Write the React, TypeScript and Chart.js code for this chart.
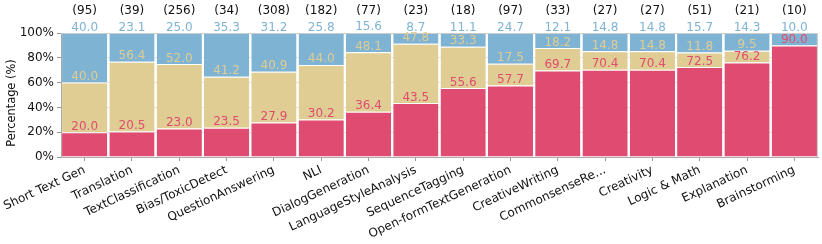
import React, { useEffect, useRef } from "react";
import { Chart, registerables } from "chart.js";

Chart.register(...registerables);

const categories = [
  "Short Text Gen", "Translation", "TextClassification", "Bias/ToxicDetect",
  "QuestionAnswering", "NLI", "DialogGeneration", "LanguageStyleAnalysis",
  "SequenceTagging", "Open-formTextGeneration", "CreativeWriting", "CommonsenseRe...",
  "Creativity", "Logic & Math", "Explanation", "Brainstorming",
];
const counts = [95, 39, 256, 34, 308, 182, 77, 23, 18, 97, 33, 27, 27, 51, 21, 10];
const redValues = [20.0, 20.5, 23.0, 23.5, 27.9, 30.2, 36.4, 43.5, 55.6, 57.7, 69.7, 70.4, 70.4, 72.5, 76.2, 90.0];
const yellowValues = [40.0, 56.4, 52.0, 41.2, 40.9, 44.0, 48.1, 47.8, 33.3, 17.5, 18.2, 14.8, 14.8, 11.8, 9.5, 0];
const blueValues = [40.0, 23.1, 25.0, 35.3, 31.2, 25.8, 15.6, 8.7, 11.1, 24.7, 12.1, 14.8, 14.8, 15.7, 14.3, 10.0];
const yTicks = [0, 20, 40, 60, 80, 100];
const yTitle = "Percentage (%)";

const RED = "#e04c71";
const YELLOW = "#dfcd93";
const BLUE = "#7fb3d3";
const FONT = "'DejaVu Sans', sans-serif";

const labelPlugin = {
  id: "valueLabels",
  afterDatasetsDraw(chart: any) {
    const { ctx, chartArea } = chart;
    const xs = chart.scales.x;
    const ys = chart.scales.y;
    ctx.save();
    // frame (top & right)
    ctx.strokeStyle = "#cccccc";
    ctx.lineWidth = 1;
    ctx.beginPath();
    ctx.moveTo(chartArea.left, chartArea.top + 0.5);
    ctx.lineTo(chartArea.right - 0.5, chartArea.top + 0.5);
    ctx.lineTo(chartArea.right - 0.5, chartArea.bottom);
    ctx.stroke();

    ctx.font = `12px ${FONT}`;
    ctx.textAlign = "center";
    ctx.textBaseline = "alphabetic";
    categories.forEach((_, i) => {
      const x = xs.getPixelForValue(i);
      let cum = 0;
      chart.data.datasets.forEach((ds: any) => {
        const v = ds.data[i];
        cum += v;
        if (v > 0) {
          ctx.fillStyle = ds.backgroundColor;
          ctx.fillText(v.toFixed(1), x, ys.getPixelForValue(cum) - 2.5);
        }
      });
      ctx.fillStyle = "#111";
      ctx.fillText(`(${counts[i]})`, x, 14);
    });

    // y-axis title
    ctx.translate(12, 103);
    ctx.rotate(-Math.PI / 2);
    ctx.font = `11.4px ${FONT}`;
    ctx.textBaseline = "middle";
    ctx.fillStyle = "#111";
    ctx.fillText(yTitle, 0, 0);
    ctx.restore();
  },
};

export default function App() {
  const ref = useRef<HTMLCanvasElement | null>(null);
  useEffect(() => {
    document.body.style.margin = "0";
    const mk = (data: number[], color: string) => ({
      data,
      backgroundColor: color,
      borderColor: "rgba(255,255,255,0.8)",
      borderWidth: { top: 1, bottom: 0, left: 0, right: 0 },
      borderSkipped: false,
      inflateAmount: 0,
    });
    const chart = new Chart(ref.current!, {
      type: "bar",
      data: {
        labels: categories,
        datasets: [mk(redValues, RED), mk(yellowValues, YELLOW), mk(blueValues, BLUE)] as any,
      },
      options: {
        animation: false,
        responsive: true,
        maintainAspectRatio: false,
        layout: { padding: { top: 33, right: 4, left: 0, bottom: 0 } },
        plugins: { legend: { display: false }, tooltip: { enabled: false } },
        datasets: { bar: { categoryPercentage: 1, barPercentage: 0.956 } },
        scales: {
          x: {
            stacked: true,
            afterFit: (s: any) => { s.height = 87; },
            grid: { display: true, drawOnChartArea: false, offset: false, tickLength: 4, color: "#999" },
            border: { color: "#aaa", width: 1 },
            ticks: {
              autoSkip: false, minRotation: 25, maxRotation: 25, padding: 2,
              color: "#111", font: { family: FONT, size: 12 },
            },
          },
          y: {
            stacked: true,
            min: 0,
            max: 100,
            afterFit: (s: any) => { s.width = 61; },
            afterBuildTicks: (s: any) => { s.ticks = yTicks.map((v) => ({ value: v })); },
            grid: { color: "#e4e4e4", tickColor: "#999", tickLength: 4 },
            border: { color: "#aaa", width: 1 },
            ticks: {
              padding: 3, color: "#111", font: { family: FONT, size: 12 },
              callback: (v: any) => `${v}%`,
            },
          },
        },
      },
      plugins: [labelPlugin],
    });
    return () => chart.destroy();
  }, []);
  return (
    <div style={{ position: "fixed", left: 0, top: 0, width: 822, height: 244 }}>
      <canvas ref={ref} />
    </div>
  );
}
